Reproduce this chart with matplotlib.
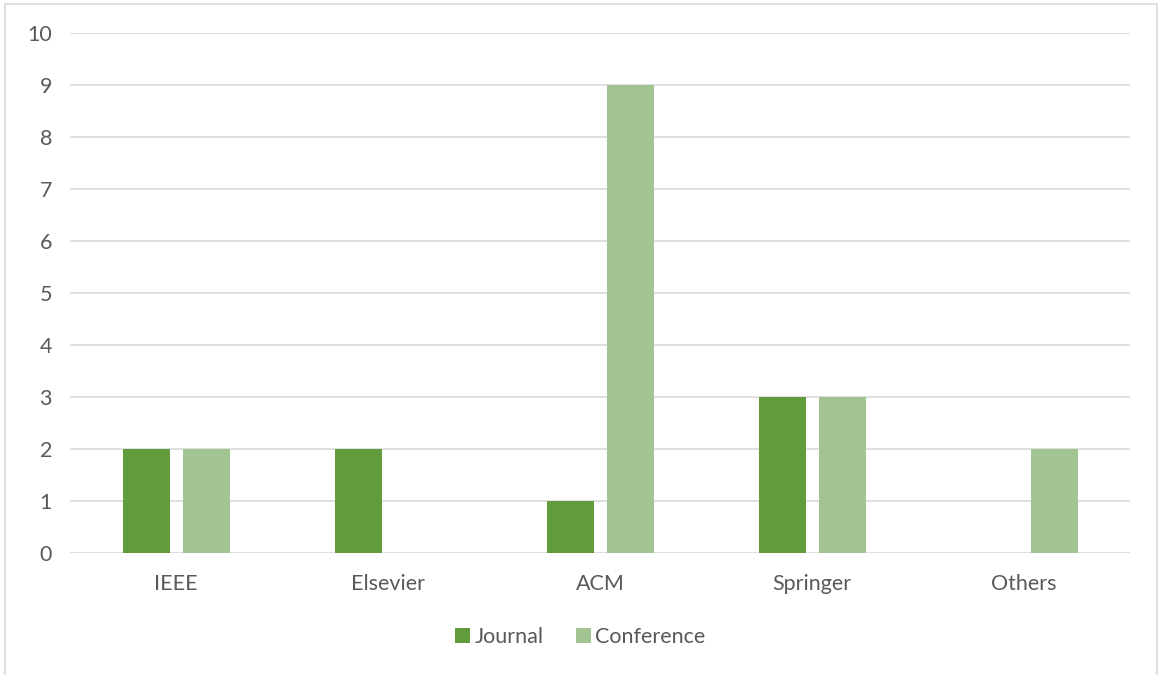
import numpy as np
import matplotlib.pyplot as plt
from matplotlib.patches import Rectangle

categories = ['IEEE', 'Elsevier', 'ACM', 'Springer', 'Others']
journal = [2, 2, 1, 3, 0]
conference = [2, 0, 9, 3, 2]

plt.rcParams['font.family'] = ['Lato', 'DejaVu Sans']
text_color = '#595959'

fig = plt.figure(figsize=(11.6, 6.75), dpi=100)
ax = fig.add_axes([70 / 1160, 1 - 553 / 675, 1060 / 1160, 520 / 675])

x = np.arange(len(categories))
w = 47 / 212
off = 30 / 212
ax.bar(x - off, journal, width=w, color='#629A3E', label='Journal', zorder=3)
ax.bar(x + off, conference, width=w, color='#A2C490', label='Conference', zorder=3)

ax.set_xlim(-0.5, len(categories) - 0.5)
ax.set_ylim(0, 10)
ax.set_yticks(range(0, 11))
ax.set_xticks(x)
ax.set_xticklabels(categories)
ax.yaxis.grid(True, color='#D9D9D9', linewidth=1.2, zorder=0)
for s in ax.spines.values():
    s.set_visible(False)
ax.tick_params(length=0, labelsize=15.5, colors=text_color)
ax.tick_params(axis='x', pad=15)
ax.tick_params(axis='y', pad=13)

fig.legend(loc='center', bbox_to_anchor=(0.5, 1 - 637 / 675), ncol=2, frameon=False,
           fontsize=15.5, labelcolor=text_color, handlelength=0.7, handleheight=0.7,
           handletextpad=0.2, columnspacing=1.5)

fig.patches.append(Rectangle((5 / 1160, -0.01), 1152 / 1160, 1.01 - 4 / 675,
                             transform=fig.transFigure, fill=False,
                             edgecolor='#D9D9D9', linewidth=1.2))

fig.savefig('out.png', dpi=100, facecolor='white')
